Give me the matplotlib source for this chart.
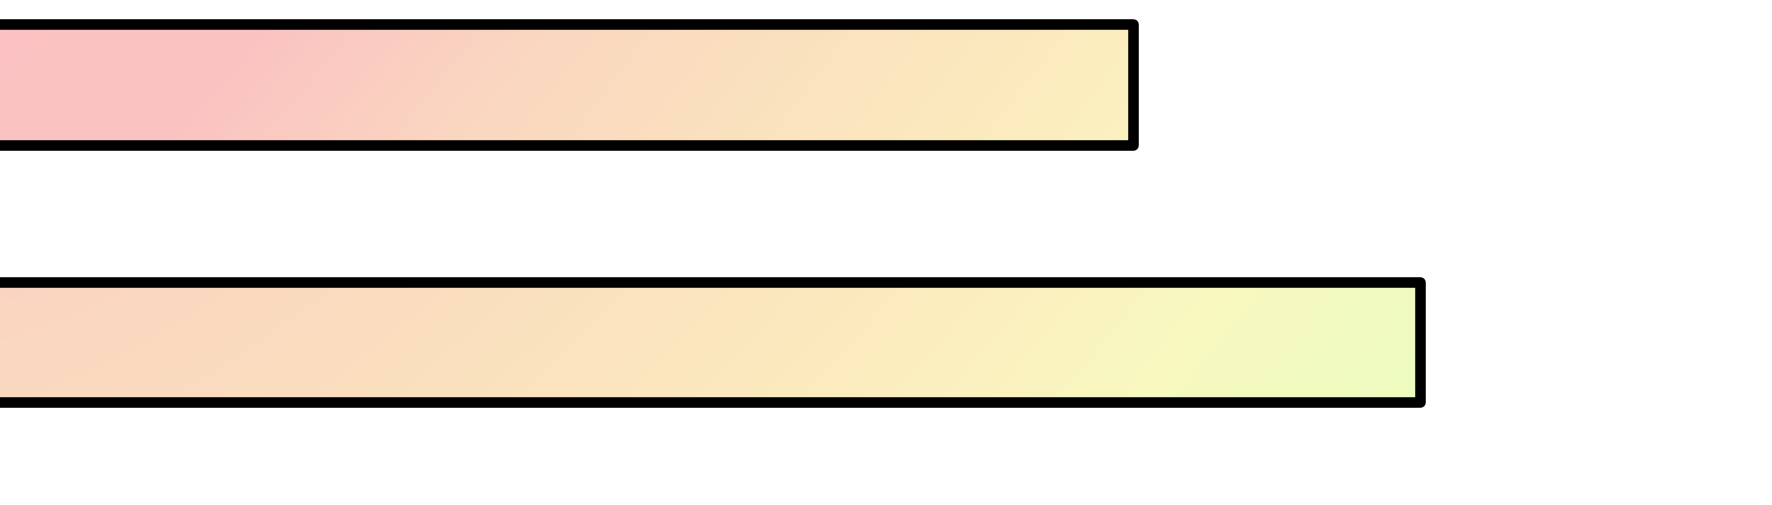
import numpy as np
import matplotlib
matplotlib.use("Agg")
import matplotlib.pyplot as plt
from matplotlib.colors import LinearSegmentedColormap

# data
categories = ["A", "B"]
values = [72, 90]

# gradient styling per bar (colour position at start / end, curve)
grad_start = [0.0, 0.30]
grad_end = [0.72, 1.0]
grad_power = [1.1, 1.4]

stops = [0.0, 0.12, 0.30, 0.50, 0.70, 0.85, 1.0]
stop_colors = ["#FBC2C3", "#FBC3C2", "#FAD7C0", "#FBE3BE", "#FCEEBF", "#F8F9BF", "#EEFBBF"]
cmap = LinearSegmentedColormap.from_list("grad", list(zip(stops, stop_colors)))

W, H, DPI = 1772, 506, 100
fig = plt.figure(figsize=(W / DPI, H / DPI), dpi=DPI)
fig.patch.set_facecolor("white")

scale = (1420 - 1133) / (values[1] - values[0])
x0 = 1133 - values[0] * scale
ax = fig.add_axes([x0 / W, 0, 100 * scale / W, 1])
ax.set_xlim(0, 100)
spacing = 257.4
ax.set_ylim((H - 85.6) / spacing, -85.6 / spacing)
ax.axis("off")

ypos = np.arange(len(categories))
bar_h = 0.47
bars = ax.barh(ypos, values, height=bar_h, facecolor="none", edgecolor="black",
               linewidth=7.6, zorder=3)
for b in bars:
    b.set_joinstyle("round")

for i, (b, v) in enumerate(zip(bars, values)):
    nx, ny = 400, 40
    fx = np.linspace(0, 1, nx)[None, :]
    fy = np.linspace(-0.5, 0.5, ny)[:, None]
    t = grad_start[i] + (grad_end[i] - grad_start[i]) * fx ** grad_power[i] + 0.06 * fy
    t = np.clip(t, 0, 1)
    y0 = ypos[i] - bar_h / 2
    y1 = ypos[i] + bar_h / 2
    im = ax.imshow(t, extent=[0, v, y1, y0], origin="upper", aspect="auto",
                   cmap=cmap, vmin=0, vmax=1, zorder=2, interpolation="bilinear")
    im.set_clip_path(b)

fig.savefig("out.png", dpi=DPI, facecolor="white")
